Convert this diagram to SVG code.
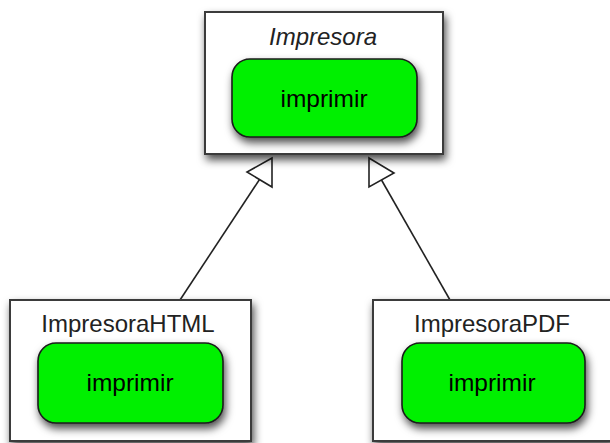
<svg xmlns="http://www.w3.org/2000/svg" width="610" height="443" viewBox="0 0 610 443">
<defs>
<style>
.cls{fill:#fff;stroke:#3a3a3a;stroke-width:2}
.op{fill:#00f000;stroke:#1a1a1a;stroke-width:1.6}
.t{font-family:"Liberation Sans",Arial,sans-serif;font-size:24px;fill:#222;text-anchor:middle}
.it{font-style:italic}
.op-t{font-family:"Liberation Sans",Arial,sans-serif;font-size:24.5px;fill:#000;text-anchor:middle}
.edge{fill:none;stroke:#222;stroke-width:1.6}
.head{fill:#fff;stroke:#222;stroke-width:1.6;stroke-linejoin:miter}
</style>
<filter id="sh" x="-20%" y="-20%" width="140%" height="150%">
<feDropShadow dx="2" dy="5" stdDeviation="4" flood-color="#000" flood-opacity="0.7"/>
</filter>
</defs>
<g id="connectors">
<line class="edge" x1="180" y1="300" x2="259.5" y2="179.5"/>
<polygon class="head" points="272,158 247,172 272,187"/>
<line class="edge" x1="450" y1="300" x2="381.5" y2="180"/>
<polygon class="head" points="369,158 394,173 369,187"/>
</g>
<g id="Impresora">
<rect class="cls" x="205" y="12" width="238" height="142" filter="url(#sh)"/>
<text class="t it" x="323" y="45">Impresora</text>
<g id="Impresora-imprimir">
<rect class="op" x="232" y="59" width="185" height="78" rx="18" filter="url(#sh)"/>
<text class="op-t" x="324" y="107">imprimir</text>
</g>
</g>
<g id="ImpresoraHTML">
<rect class="cls" x="10" y="300" width="241" height="141" filter="url(#sh)"/>
<text class="t" x="128" y="332">ImpresoraHTML</text>
<g id="ImpresoraHTML-imprimir">
<rect class="op" x="38" y="343" width="185" height="80" rx="18" filter="url(#sh)"/>
<text class="op-t" x="130" y="391">imprimir</text>
</g>
</g>
<g id="ImpresoraPDF">
<rect class="cls" x="373" y="300" width="240" height="141" filter="url(#sh)"/>
<text class="t" x="492" y="332">ImpresoraPDF</text>
<g id="ImpresoraPDF-imprimir">
<rect class="op" x="402" y="343" width="183" height="80" rx="18" filter="url(#sh)"/>
<text class="op-t" x="492" y="391">imprimir</text>
</g>
</g>
</svg>
